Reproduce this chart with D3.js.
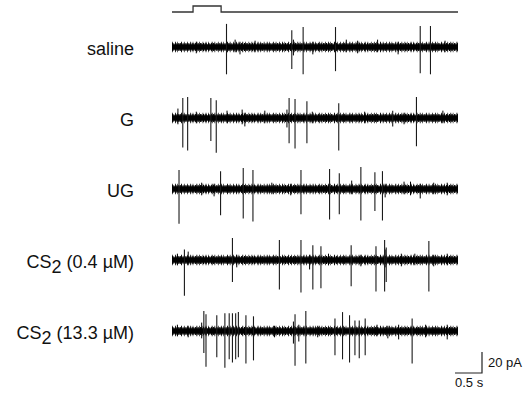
<!DOCTYPE html>
<html>
<head>
<meta charset="utf-8">
<script src="https://cdn.jsdelivr.net/npm/d3@7"></script>
<style>
    body { margin: 0; background: #fff; }
    svg { display: block; font-family: "Liberation Sans", Arial, sans-serif; }
</style>
</head>
<body>
<svg id="chart" width="524" height="402"></svg>
<script>
'use strict';

// recording conditions, top to bottom
const conditions = ['saline', 'G', 'UG', 'CS2 (0.4 µM)', 'CS2 (13.3 µM)'];

// sweep length and stimulus window (s)
const sweep = [0, 5.3];
const stimulus = [0.39, 0.91];

// action currents: [time (s), upward (pA), downward (pA)]
const salineSpikes = [[1.01, 22, 26], [2.22, 16, 21], [2.43, 19, 26], [3.03, 19, 23], [4.60, 20, 25], [4.79, 20, 26]];
const gSpikes = [[0.20, 19, 28], [0.29, 20, 31], [0.72, 19, 22], [0.82, 17, 33], [2.17, 19, 24], [2.28, 18, 29],
    [2.50, 16, 24], [3.09, 14, 31], [4.09, 7, 8], [4.53, 20, 27]];
const ugSpikes = [[0.13, 18, 33], [0.90, 17, 25], [1.32, 20, 28], [1.50, 18, 31], [2.39, 18, 24], [2.92, 19, 29],
    [3.10, 15, 24], [3.50, 21, 30], [3.76, 16, 21], [3.90, 17, 30]];
const csLowSpikes = [[0.23, 10, 34], [1.12, 21, 21], [1.99, 19, 28], [2.39, 19, 31], [2.61, 14, 28], [2.76, 13, 27],
    [3.32, 14, 25], [3.78, 13, 30], [3.94, 19, 30], [3.97, 12, 21], [4.76, 18, 30]];
const csHighSpikes = [[0.59, 19, 21], [0.63, 16, 34], [0.83, 15, 25], [0.98, 17, 35], [1.06, 17, 27], [1.12, 17, 30],
    [1.18, 17, 27], [1.23, 18, 25], [1.37, 15, 31], [1.51, 14, 28], [2.28, 16, 33], [2.48, 19, 31], [3.02, 12, 23],
    [3.16, 18, 27], [3.29, 15, 30], [3.39, 10, 23], [3.47, 10, 26], [3.58, 12, 23], [4.45, 12, 31]];

// small noise excursions: [time (s), upward (pA), downward (pA)]
const salineNoise = [[0.45, 5, 6], [1.17, 7, 5], [1.26, 5, 7], [1.54, 6, 5], [2.25, 7, 8], [2.61, 5, 7], [3.23, 7, 5],
    [3.44, 6, 6], [3.81, 7, 5], [4.19, 5, 7], [5.06, 6, 5]];
const gNoise = [[0.11, 9, 6], [0.45, 6, 5], [1.02, 7, 5], [1.30, 8, 6], [1.35, 5, 8], [1.72, 7, 5], [2.13, 8, 9],
    [2.60, 6, 5], [3.57, 6, 5], [4.30, 5, 6], [5.02, 7, 5]];
const ugNoise = [[0.55, 6, 6], [0.78, 5, 7], [1.85, 6, 5], [2.20, 5, 6], [3.33, 8, 5], [3.95, 5, 8], [4.30, 7, 5],
    [4.42, 7, 6], [4.60, 5, 9], [4.85, 6, 5], [5.10, 6, 6]];
const csLowNoise = [[0.10, 6, 5], [0.30, 8, 5], [1.20, 5, 7], [2.55, 5, 9], [2.90, 6, 5], [3.50, 5, 6], [3.95, 10, 7],
    [4.25, 6, 6], [4.50, 6, 5], [4.85, 5, 6], [5.10, 6, 5]];
const csHighNoise = [[0.10, 6, 5], [0.30, 5, 6], [0.55, 8, 7], [1.90, 5, 6], [2.25, 9, 12], [2.35, 6, 10], [2.70, 5, 6],
    [3.80, 6, 5], [4.00, 5, 7], [4.20, 6, 8], [4.70, 6, 6], [5.10, 6, 8]];

const spikes = [salineSpikes, gSpikes, ugSpikes, csLowSpikes, csHighSpikes];
const noise = [salineNoise, gNoise, ugNoise, csLowNoise, csHighNoise];

// scale bar
const barTime = 0.5;
const barCurrent = 20;

const LABEL_X = 134;
const LABEL_DY = 8;

// baseline band texture: [stroke width, dash pattern]
const BAND_LAYERS = [
    [5.5, null],
    [8, '0.9 0.6 0.7 1.1 1 0.5 0.6 0.9 1.2 0.7'],
    [10.5, '0.7 2.3 0.8 1.6 0.6 3.1 0.9 1.9 0.7 2.7']
];

class TraceChart {

    constructor(id) {
        this.svg = d3.select('#' + id);

        this.x = d3.scaleLinear()
            .domain(sweep)
            .range([172, 458]);

        this.row = d3.scalePoint()
            .domain(conditions)
            .range([47, 331]);

        // pA -> pixel offset from the trace baseline
        this.current = d3.scaleLinear()
            .domain([-40, 40])
            .range([42, -42]);

        this.render();
    }

    render() {
        this.drawStimulus();
        conditions.forEach((name, i) => this.drawTrace(name, spikes[i], noise[i]));
        this.drawLabels();
        this.drawScaleBar();
    }

    drawStimulus() {
        const base = 12, top = 6;
        const pts = [
            [sweep[0], base], [stimulus[0], base], [stimulus[0], top],
            [stimulus[1], top], [stimulus[1], base], [sweep[1], base]
        ];
        this.svg.append('path')
            .attr('d', d3.line().x(d => this.x(d[0])).y(d => d[1])(pts))
            .attr('fill', 'none')
            .attr('stroke', '#333')
            .attr('stroke-width', 1.3);
    }

    drawTrace(name, events, blips) {
        const y0 = this.row(name);
        const g = this.svg.append('g').attr('class', 'trace');

        g.selectAll('.band')
            .data(BAND_LAYERS)
            .enter()
            .append('line')
            .attr('class', 'band')
            .attr('x1', this.x(sweep[0])).attr('x2', this.x(sweep[1]))
            .attr('y1', y0).attr('y2', y0)
            .attr('stroke', '#000')
            .attr('stroke-width', d => d[0])
            .attr('stroke-dasharray', d => d[1]);

        g.selectAll('.blip')
            .data(blips)
            .enter()
            .append('line')
            .attr('class', 'blip')
            .attr('x1', d => this.x(d[0])).attr('x2', d => this.x(d[0]))
            .attr('y1', d => y0 + this.current(d[1]))
            .attr('y2', d => y0 + this.current(-d[2]))
            .attr('stroke', '#000')
            .attr('stroke-width', 1);

        g.selectAll('.spike')
            .data(events)
            .enter()
            .append('line')
            .attr('class', 'spike')
            .attr('x1', d => this.x(d[0])).attr('x2', d => this.x(d[0]))
            .attr('y1', d => y0 + this.current(d[1]))
            .attr('y2', d => y0 + this.current(-d[2]))
            .attr('stroke', '#1a1a1a')
            .attr('stroke-width', 1.1);
    }

    drawLabels() {
        const text = this.svg.selectAll('.label')
            .data(conditions)
            .enter()
            .append('text')
            .attr('class', 'label')
            .attr('x', LABEL_X)
            .attr('y', d => this.row(d) + LABEL_DY)
            .attr('text-anchor', 'end')
            .attr('font-size', 18)
            .attr('fill', '#111');

        text.each(function (d) {
            const t = d3.select(this);
            if (d.startsWith('CS2')) {
                t.append('tspan').text('CS');
                t.append('tspan').attr('dy', 5).text('2');
                t.append('tspan').attr('dy', -5).text(d.slice(3));
            } else {
                t.text(d);
            }
        });
    }

    drawScaleBar() {
        const right = 482, bottom = 373;
        const w = this.x(barTime) - this.x(0);
        const h = this.current(0) - this.current(barCurrent);

        this.svg.append('path')
            .attr('d', `M${right - w},${bottom}H${right}V${bottom - h}`)
            .attr('fill', 'none')
            .attr('stroke', '#222')
            .attr('stroke-width', 1.2);

        this.svg.append('text')
            .attr('x', right + 6)
            .attr('y', bottom - 6)
            .attr('font-size', 13)
            .attr('fill', '#111')
            .text(barCurrent + ' pA');

        this.svg.append('text')
            .attr('x', right - w)
            .attr('y', bottom + 14)
            .attr('font-size', 13)
            .attr('fill', '#111')
            .text(barTime + ' s');
    }
}

new TraceChart('chart');
</script>
</body>
</html>
